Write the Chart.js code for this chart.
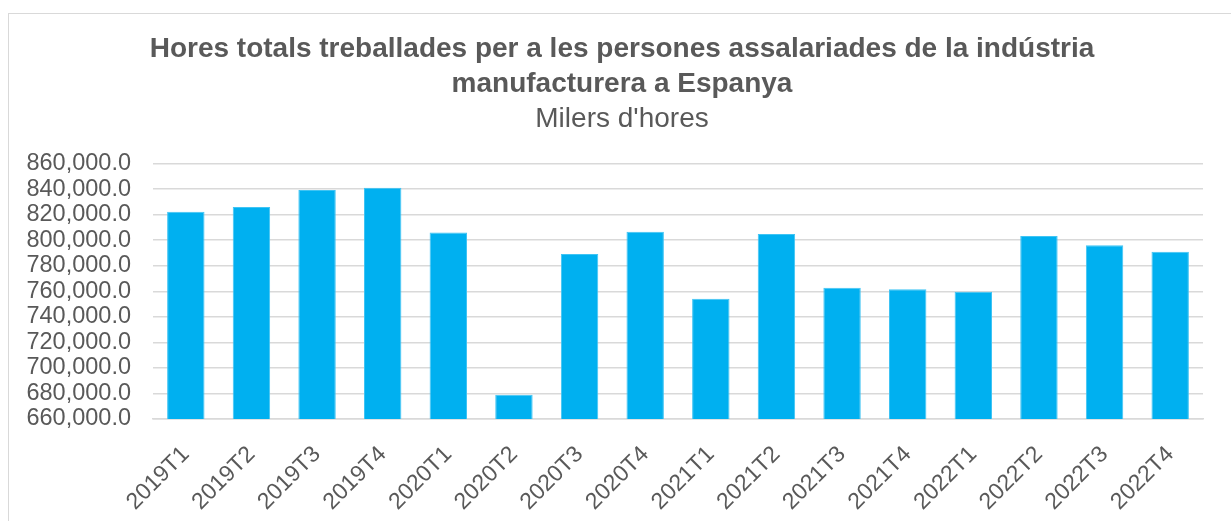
<!DOCTYPE html>
<html>
<head>
<meta charset="utf-8">
<script src="https://cdn.jsdelivr.net/npm/chart.js@4/dist/chart.umd.min.js"></script>
<style>
html,body{margin:0;padding:0;background:#fff;overflow:hidden;}
#frame{position:absolute;left:8px;top:13px;width:1240px;height:520px;border:1.5px solid #d9d9d9;box-sizing:border-box;}
#wrap{position:absolute;left:0;top:0;width:1231px;height:521px;}
</style>
</head>
<body>
<div id="frame"></div>
<div id="wrap"><canvas id="c" width="1231" height="521"></canvas></div>
<script>
const titleLines = ["Hores totals treballades per a les persones assalariades de la indústria", "manufacturera a Espanya"];
const subtitleText = "Milers d'hores";
const categories = ["2019T1","2019T2","2019T3","2019T4","2020T1","2020T2","2020T3","2020T4","2021T1","2021T2","2021T3","2021T4","2022T1","2022T2","2022T3","2022T4"];
const hours = [822200, 826100, 839400, 841000, 806000, 679000, 789300, 806600, 754100, 804900, 762700, 761700, 759600, 803400, 796100, 790900];
const yMin = 660000, yMax = 860000, yStep = 20000;

const FONT = "'Liberation Sans', Arial, sans-serif";
const GREY = '#595959';

// let the y tick labels extend to the left of the axis box (no label clipping)
const noLabelClip = {
  id: 'noLabelClip',
  beforeDraw(chart) {
    const y = chart.scales.y;
    if (y) y._computeLabelArea = () => undefined;
  }
};

new Chart(document.getElementById('c'), {
  type: 'bar',
  data: {
    labels: categories,
    datasets: [{
      data: hours,
      backgroundColor: '#00B0F0',
      borderColor: '#3fc4f4',
      borderWidth: 1,
      barPercentage: 0.57,
      categoryPercentage: 1.0
    }]
  },
  plugins: [noLabelClip],
  options: {
    responsive: false,
    animation: false,
    devicePixelRatio: 1,
    layout: { padding: { left: 41, right: 28, top: 0, bottom: 0 } },
    plugins: {
      legend: { display: false },
      tooltip: { enabled: false },
      title: {
        display: true,
        text: titleLines,
        color: GREY,
        font: { family: FONT, size: 28, weight: 'bold', lineHeight: 1.25 },
        padding: { top: 32, bottom: 0 }
      },
      subtitle: {
        display: true,
        text: subtitleText,
        color: GREY,
        font: { family: FONT, size: 28, weight: 'normal', lineHeight: 1.2 },
        padding: { top: 0, bottom: 28 }
      }
    },
    scales: {
      y: {
        min: yMin, max: yMax,
        ticks: {
          stepSize: yStep,
          autoSkip: false,
          color: GREY,
          font: { family: FONT, size: 23.5 },
          padding: 22,
          callback: v => v.toLocaleString('en-US', {minimumFractionDigits: 1, maximumFractionDigits: 1})
        },
        grid: { color: '#d9d9d9', lineWidth: 1.5, drawTicks: false },
        border: { display: false },
        afterFit: s => { s.width = 112; }
      },
      x: {
        ticks: {
          color: GREY,
          font: { family: FONT, size: 23 },
          maxRotation: 45, minRotation: 45,
          padding: 22,
          autoSkip: false
        },
        grid: { display: false, drawTicks: false },
        border: { display: true, color: '#d9d9d9', width: 1.5 },
        afterFit: s => { s.height = 102; }
      }
    }
  }
});
</script>
</body>
</html>
